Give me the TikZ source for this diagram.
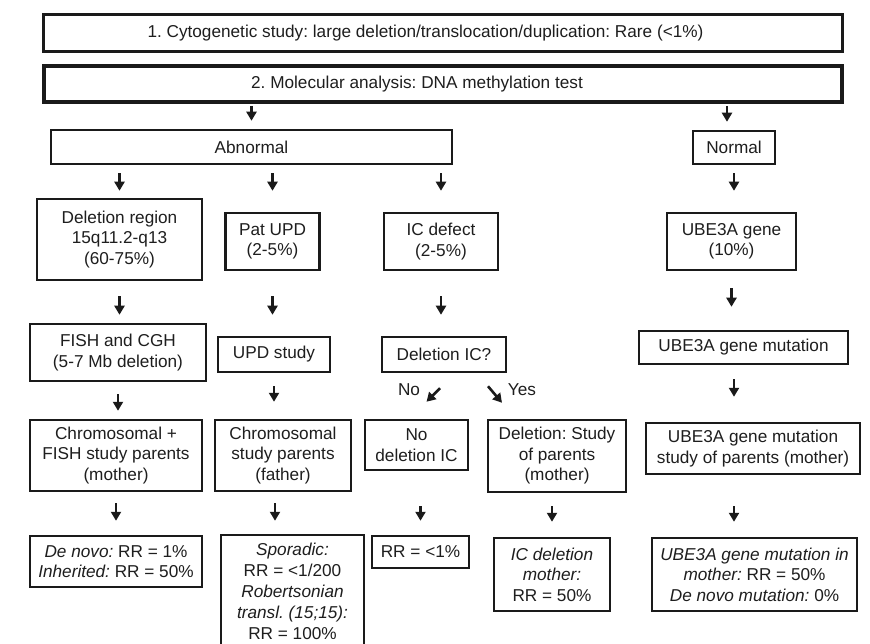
\documentclass[tikz,border=0pt]{standalone}
\usepackage{fontspec}
\setmainfont{Liberation Sans}
\usetikzlibrary{arrows.meta}
\definecolor{boxline}{HTML}{1A1A1A}
\definecolor{txt}{HTML}{1E1E1E}
\frenchspacing
\begin{document}
\begin{tikzpicture}[x=1pt,y=-1pt,
    box/.style={draw=boxline, line width=2.5pt, inner sep=0pt, align=center, text=txt,
                font=\fontsize{17.2}{20.5}\selectfont},
    lbl/.style={inner sep=0pt, text=txt, font=\fontsize{17.2}{20.5}\selectfont},
    arr/.style={draw=boxline, line width=2.6pt, -{Triangle[width=10pt,length=9pt]}}]
                \clip (0,0) rectangle (870,644);
                \fill[white] (0,0) rectangle (870,644);

                \node[box, line width=3pt, minimum width=799pt, minimum height=37pt] (cyto) at (443,33) {1. Cytogenetic study: large deletion/translocation/duplication: Rare (<1\%)\hspace*{35pt}};
                \node[box, line width=4pt, minimum width=798pt, minimum height=36pt] (molec) at (443,84) {2. Molecular analysis: DNA methylation test\hspace*{52pt}};

                \node[box, minimum width=401pt, minimum height=34pt] (abn) at (251.5,147) {Abnormal};
                \node[box, minimum width=82pt, minimum height=33pt] (nor) at (734,147.5) {Normal};

                \node[box, minimum width=165pt, minimum height=81pt] (del) at (119.5,239.5) {Deletion region\\15q11.2-q13\\(60-75\%)};
                \node[box, minimum width=94pt, minimum height=57pt] (pat) at (272.5,241.5) {Pat UPD\\(2-5\%)};
                \node[box, minimum width=114pt, minimum height=57pt] (icd) at (441,241.5) {IC defect\\(2-5\%)};
                \node[box, minimum width=129pt, minimum height=57pt] (ube) at (731.5,241.5) {UBE3A gene\\(10\%)};

                \node[box, minimum width=176pt, minimum height=57pt] (fish) at (118,352.5) {FISH and CGH\\(5-7 Mb deletion)};
                \node[box, minimum width=112pt, minimum height=35pt] (upd) at (274,354.5) {UPD study};
                \node[box, minimum width=124pt, minimum height=35pt] (dic) at (444,354.5) {Deletion IC?};
                \node[box, minimum width=209pt, minimum height=33pt] (mut) at (743.5,347.5) {UBE3A gene mutation};

                \node[lbl] (no) at (409,390) {No};
                \node[lbl] (yes) at (522,390) {Yes};

                \node[box, minimum width=172pt, minimum height=71pt] (chf) at (116,455.5) {Chromosomal +\\FISH study parents\\(mother)};
                \node[box, minimum width=136pt, minimum height=71pt] (chp) at (283,455.5) {Chromosomal\\study parents\\(father)};
                \node[box, minimum width=103pt, minimum height=50pt] (nod) at (416.5,445) {No\\deletion IC};
                \node[box, minimum width=138pt, minimum height=72pt] (dsp) at (557,456) {Deletion: Study\\of parents\\(mother)};
                \node[box, minimum width=214pt, minimum height=51pt] (mst) at (753,448.5) {UBE3A gene mutation\\study of parents (mother)};

                \node[box, minimum width=172pt, minimum height=51pt] (dnv) at (116,561.5) {\textit{De novo:} RR = 1\%\\\textit{Inherited:} RR = 50\%};
                \node[box, minimum width=143pt, minimum height=112pt, font=\fontsize{17.2}{21}\selectfont] (spo) at (292.5,591) {\textit{Sporadic:}\\RR = <1/200\\\textit{Robertsonian}\\\textit{transl. (15;15):}\\RR = 100\%};
                \node[box, minimum width=97pt, minimum height=32pt] (rr1) at (420.5,552) {RR = <1\%};
                \node[box, minimum width=116pt, minimum height=73pt] (icm) at (552,574.5) {\textit{IC deletion}\\\textit{mother:}\\RR = 50\%};
                \node[box, minimum width=205pt, minimum height=73pt] (umm) at (754.5,574.5) {\textit{UBE3A gene mutation in}\\\textit{mother:} RR = 50\%\\\textit{De novo mutation:} 0\%};

                \draw[arr, shorten <=2pt, shorten >=8pt] (molec.south -| abn.north) -- (abn.north);
                \draw[arr, shorten <=2pt, shorten >=8pt] ([xshift=-7pt]molec.south -| nor.north) -- ([xshift=-7pt]nor.north);

                \draw[arr, shorten <=8pt, shorten >=7pt] (abn.south -| del.north) -- (del.north);
                \draw[arr, shorten <=8pt, shorten >=21pt] (abn.south -| pat.north) -- (pat.north);
                \draw[arr, shorten <=8pt, shorten >=21pt] (abn.south -| icd.north) -- (icd.north);
                \draw[arr, shorten <=8pt, shorten >=21pt] (nor.south) -- (nor.south |- ube.north);

                \draw[arr, shorten <=15pt, shorten >=8pt] (del.south) -- (del.south |- fish.north);
                \draw[arr, shorten <=25pt, shorten >=21pt] (pat.south) -- (pat.south |- upd.north);
                \draw[arr, shorten <=25pt, shorten >=21pt] (icd.south) -- (icd.south |- dic.north);
                \draw[arr, shorten <=17pt, shorten >=23pt] (ube.south) -- (ube.south |- mut.north);

                \draw[arr, shorten <=12pt, shorten >=8pt] (fish.south) -- (fish.south |- chf.north);
                \draw[arr, shorten <=13pt, shorten >=17pt] (upd.south) -- (upd.south |- chp.north);
                \draw[arr, shorten <=14pt, shorten >=25pt] ([xshift=-9.5pt]mut.south) -- ([xshift=-9.5pt]mut.south |- mst.north);
                \draw[arr] ([xshift=-4pt,yshift=-15pt]dic.south) -- ([xshift=10pt,yshift=17pt]nod.north);
                \draw[arr] ([xshift=44pt,yshift=-13pt]dic.south) -- ([xshift=-55pt,yshift=16pt]dsp.north);

                \draw[arr, shorten <=11pt, shorten >=14pt] (chf.south) -- (chf.south |- dnv.north);
                \draw[arr, shorten <=11pt, shorten >=13pt] ([xshift=-8pt]chp.south) -- ([xshift=-8pt]chp.south |- spo.north);
                \draw[arr, shorten <=35pt, shorten >=14pt] (nod.south -| rr1.north) -- (rr1.north);
                \draw[arr, shorten <=13pt, shorten >=15pt] (dsp.south -| icm.north) -- (icm.north);
                \draw[arr, shorten <=31pt, shorten >=15pt] ([xshift=-19pt]mst.south) -- ([xshift=-19pt]mst.south |- umm.north);
            \end{tikzpicture}
\end{document}
